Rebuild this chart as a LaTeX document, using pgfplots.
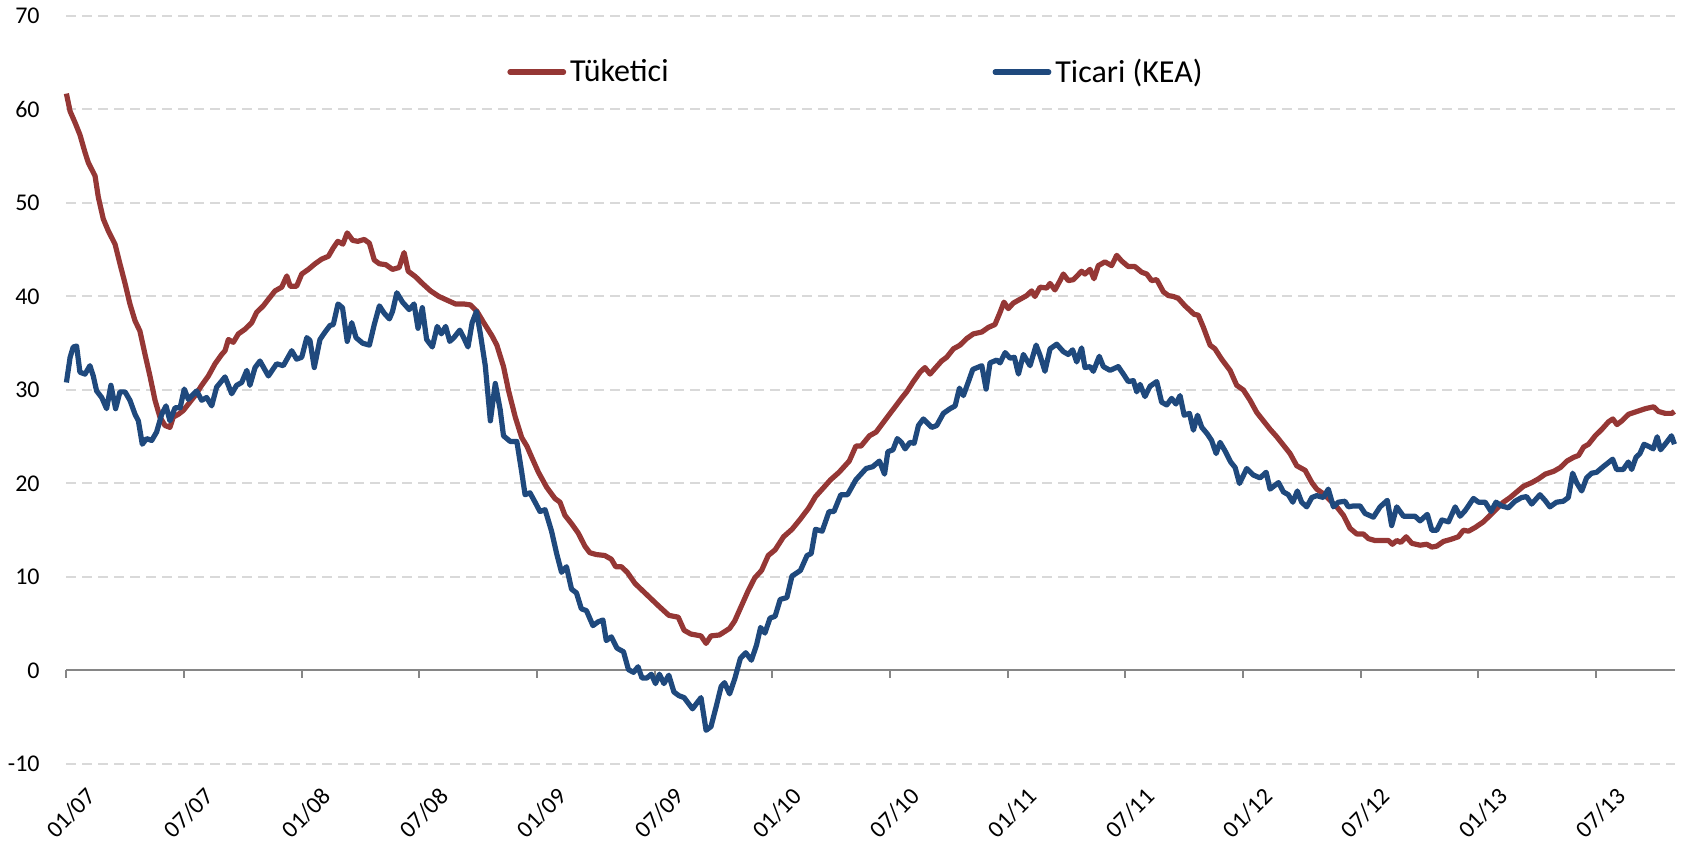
\documentclass[border=0pt]{standalone}
\usepackage{fontspec}
\setmainfont{Carlito}
\usepackage{pgfplots}
\pgfplotsset{compat=1.18}
\definecolor{tred}{HTML}{953735}
\definecolor{tblue}{HTML}{1F497D}
\definecolor{gridc}{HTML}{D9D9D9}
\definecolor{axc}{HTML}{868686}

\pgfplotstableread{
m v
0.0 61.7
0.19 59.8
0.44 58.6
0.69 57.3
0.95 55.4
1.12 54.3
1.46 52.9
1.63 50.6
1.88 48.3
2.14 47.0
2.48 45.6
2.73 43.5
2.99 41.4
3.24 39.2
3.5 37.4
3.75 36.3
4.01 33.8
4.26 31.5
4.52 28.9
4.77 27.1
5.03 26.2
5.28 26.0
5.45 27.1
5.71 27.4
5.96 27.8
6.22 28.5
6.56 29.4
6.9 30.5
7.24 31.5
7.58 32.8
7.92 33.8
8.09 34.2
8.26 35.4
8.51 35.1
8.77 36.0
9.11 36.5
9.45 37.2
9.7 38.3
10.04 39.0
10.3 39.7
10.64 40.6
10.98 41.0
11.24 42.2
11.41 41.1
11.74 41.1
12.0 42.4
12.34 42.9
12.68 43.5
13.02 44.0
13.36 44.3
13.61 45.2
13.84 45.9
14.1 45.6
14.32 46.8
14.6 46.0
14.86 45.9
15.19 46.1
15.45 45.7
15.7 43.9
15.96 43.5
16.29 43.4
16.63 42.9
16.97 43.1
17.22 44.7
17.43 42.7
17.81 42.1
18.15 41.4
18.57 40.6
19.0 40.0
19.42 39.6
19.84 39.2
20.26 39.2
20.6 39.1
20.94 38.4
21.28 37.2
21.7 35.8
21.95 34.8
22.29 32.5
22.55 29.9
22.89 27.1
23.22 24.9
23.48 24.0
23.73 22.8
24.07 21.2
24.49 19.6
24.91 18.4
25.17 18.0
25.42 16.6
25.76 15.7
26.1 14.7
26.44 13.3
26.69 12.6
27.02 12.4
27.45 12.3
27.79 11.9
28.01 11.1
28.3 11.1
28.6 10.5
29.0 9.3
29.6 8.1
30.2 6.9
30.72 5.9
31.2 5.7
31.5 4.3
31.84 3.9
32.36 3.7
32.62 2.9
32.87 3.7
33.3 3.8
33.82 4.5
34.08 5.3
34.42 6.9
34.76 8.5
35.1 9.9
35.45 10.7
35.79 12.3
36.14 12.9
36.57 14.3
37.0 15.1
37.43 16.2
37.86 17.4
38.2 18.6
38.63 19.6
38.97 20.4
39.4 21.2
39.92 22.4
40.26 24.0
40.52 24.0
40.95 25.1
41.29 25.5
41.72 26.7
42.15 27.9
42.58 29.1
42.85 29.8
43.19 30.9
43.53 31.9
43.78 32.4
44.04 31.7
44.29 32.3
44.63 33.1
44.89 33.5
45.23 34.4
45.57 34.8
45.91 35.5
46.25 36.0
46.68 36.2
47.02 36.7
47.35 37.0
47.61 38.3
47.81 39.4
48.03 38.7
48.29 39.3
48.63 39.7
48.97 40.1
49.22 40.6
49.39 40.0
49.65 41.0
49.99 40.9
50.16 41.4
50.41 40.7
50.67 41.7
50.84 42.4
51.09 41.7
51.35 41.8
51.77 42.7
51.94 42.4
52.2 42.9
52.4 41.9
52.62 43.3
52.96 43.7
53.3 43.3
53.56 44.4
53.81 43.8
54.15 43.2
54.49 43.2
54.83 42.6
55.09 42.4
55.34 41.7
55.6 41.8
55.94 40.5
56.19 40.1
56.45 40.0
56.7 39.8
57.04 39.0
57.3 38.5
57.5 38.1
57.72 38.0
57.98 36.7
58.32 34.8
58.57 34.4
58.91 33.3
59.34 32.1
59.68 30.5
60.02 30.0
60.36 28.9
60.7 27.6
61.04 26.7
61.38 25.8
61.72 25.0
62.06 24.1
62.4 23.2
62.74 21.9
63.17 21.4
63.51 20.1
63.76 19.4
64.1 18.9
64.44 18.2
64.78 17.5
65.12 16.6
65.46 15.2
65.8 14.6
66.14 14.6
66.4 14.1
66.73 13.9
67.16 13.9
67.42 13.9
67.62 13.5
67.84 13.9
68.05 13.7
68.32 14.3
68.61 13.6
69.03 13.4
69.37 13.5
69.63 13.2
69.88 13.3
70.22 13.8
70.56 14.0
70.98 14.3
71.24 15.0
71.5 14.9
71.84 15.3
72.26 15.9
72.6 16.6
72.94 17.3
73.28 18.0
73.62 18.5
73.96 19.1
74.3 19.7
74.73 20.1
75.07 20.5
75.41 21.0
75.84 21.3
76.18 21.7
76.52 22.4
76.86 22.8
77.11 23.0
77.37 23.9
77.62 24.2
77.96 25.1
78.3 25.8
78.64 26.6
78.86 26.9
79.07 26.3
79.32 26.7
79.66 27.4
80.09 27.7
80.51 28.0
80.94 28.2
81.19 27.7
81.53 27.5
81.87 27.5
82.0 27.7
}\tuketici

\pgfplotstableread{
m v
0.0 30.8
0.19 33.5
0.35 34.6
0.52 34.7
0.69 31.9
0.95 31.7
1.2 32.6
1.37 31.5
1.54 29.9
1.8 29.2
2.05 28.0
2.27 30.5
2.51 28.0
2.73 29.8
2.99 29.8
3.24 28.9
3.5 27.4
3.67 26.7
3.87 24.2
4.09 24.8
4.35 24.6
4.6 25.5
4.86 27.4
5.08 28.3
5.28 26.7
5.54 28.1
5.8 28.1
6.01 30.1
6.22 29.0
6.64 29.9
6.9 28.9
7.15 29.2
7.41 28.3
7.66 30.3
8.09 31.4
8.43 29.6
8.68 30.5
8.94 30.8
9.2 32.1
9.36 30.5
9.62 32.4
9.87 33.1
10.3 31.5
10.72 32.8
11.06 32.6
11.49 34.2
11.74 33.3
12.0 33.5
12.26 35.6
12.42 35.3
12.64 32.4
12.93 35.4
13.19 36.2
13.44 36.9
13.61 37.0
13.85 39.2
14.08 38.8
14.32 35.2
14.55 37.2
14.77 35.6
15.11 35.0
15.45 34.8
15.7 37.0
15.96 39.0
16.21 38.2
16.47 37.6
16.63 38.4
16.85 40.4
17.14 39.4
17.48 38.6
17.73 39.2
17.93 36.6
18.15 38.8
18.37 35.4
18.66 34.6
18.91 36.8
19.12 36.0
19.34 36.8
19.55 35.2
19.76 35.6
20.06 36.4
20.26 35.6
20.48 34.6
20.69 37.2
20.91 38.4
21.11 36.0
21.36 32.6
21.62 26.7
21.87 30.7
22.12 27.9
22.29 25.1
22.63 24.5
22.97 24.5
23.22 21.2
23.39 18.8
23.64 19.0
23.9 18.0
24.15 17.0
24.41 17.2
24.74 14.9
25.0 12.5
25.25 10.5
25.5 11.1
25.76 8.7
26.01 8.3
26.26 6.6
26.52 6.4
26.85 4.8
27.11 5.2
27.36 5.4
27.53 3.2
27.79 3.6
28.07 2.4
28.41 2.0
28.66 0.1
28.92 -0.2
29.15 0.4
29.35 -0.8
29.6 -0.8
29.83 -0.4
30.04 -1.4
30.24 -0.4
30.47 -1.4
30.72 -0.5
30.98 -2.3
31.24 -2.7
31.5 -2.9
31.93 -4.1
32.36 -2.9
32.62 -6.4
32.87 -6.0
33.13 -3.9
33.39 -1.7
33.56 -1.3
33.82 -2.5
34.08 -0.9
34.37 1.3
34.64 1.9
34.93 1.1
35.19 2.7
35.4 4.6
35.62 4.0
35.88 5.6
36.14 5.8
36.4 7.6
36.74 7.8
37.0 10.1
37.43 10.7
37.77 12.3
37.98 12.5
38.2 15.1
38.54 14.9
38.89 17.0
39.14 17.0
39.49 18.8
39.83 18.8
40.26 20.4
40.78 21.6
41.12 21.8
41.46 22.4
41.72 21.0
41.89 23.4
42.15 23.6
42.37 24.8
42.58 24.4
42.77 23.7
43.02 24.4
43.23 24.3
43.45 26.2
43.7 26.9
44.13 26.0
44.38 26.2
44.72 27.5
45.06 28.0
45.32 28.3
45.54 30.2
45.74 29.4
46.0 30.9
46.22 32.2
46.68 32.6
46.9 30.1
47.1 32.9
47.44 33.2
47.61 32.9
47.87 34.0
48.12 33.4
48.34 33.5
48.55 31.7
48.8 33.8
49.14 32.6
49.45 34.8
49.65 33.7
49.9 32.0
50.16 34.4
50.5 34.9
50.84 34.1
51.09 33.8
51.31 34.3
51.52 33.0
51.77 34.5
51.94 32.4
52.2 32.5
52.37 32.0
52.67 33.6
52.88 32.5
53.22 32.1
53.64 32.5
53.9 31.7
54.15 30.9
54.41 31.0
54.58 29.8
54.75 30.6
55.0 29.3
55.26 30.4
55.6 30.9
55.85 28.7
56.11 28.4
56.36 29.1
56.58 28.5
56.79 29.4
57.0 27.3
57.27 27.5
57.47 25.7
57.68 27.3
57.9 26.0
58.18 25.3
58.4 24.6
58.63 23.2
58.83 24.4
59.08 23.5
59.37 22.3
59.6 21.7
59.82 20.0
60.19 21.6
60.53 20.9
60.87 20.6
61.18 21.2
61.38 19.4
61.81 20.1
62.06 19.1
62.31 18.8
62.54 18.0
62.77 19.2
62.99 18.0
63.25 17.5
63.51 18.5
63.76 18.7
64.1 18.5
64.35 19.4
64.61 17.5
64.86 18.0
65.2 18.1
65.37 17.5
65.63 17.6
65.97 17.6
66.22 16.8
66.65 16.4
66.99 17.5
67.36 18.2
67.58 15.5
67.84 17.5
68.18 16.5
68.43 16.5
68.77 16.5
69.03 16.0
69.4 16.7
69.63 15.0
69.88 15.0
70.14 16.1
70.48 15.9
70.82 17.5
71.07 16.5
71.33 17.1
71.75 18.4
72.01 18.0
72.35 18.0
72.65 17.0
72.9 18.0
73.19 17.6
73.53 17.4
73.87 18.1
74.21 18.5
74.46 18.6
74.72 17.8
75.14 18.8
75.4 18.2
75.65 17.5
75.99 18.0
76.33 18.1
76.59 18.5
76.81 21.1
77.01 20.1
77.27 19.2
77.52 20.6
77.78 21.1
78.03 21.2
78.37 21.8
78.85 22.6
79.05 21.5
79.39 21.5
79.65 22.3
79.82 21.5
80.04 22.8
80.24 23.2
80.45 24.2
80.75 23.9
80.92 23.7
81.12 25.0
81.29 23.6
81.6 24.4
81.85 25.1
82.0 24.2
}\ticari

\begin{document}
\begin{tikzpicture}
\begin{axis}[name=ax, scale only axis, width=804.3pt, height=374pt,
  xmin=0, xmax=82.03, ymin=-10, ymax=70,
  axis line style={draw=none},
  major tick length=0pt,
  xtick={0,6,...,78},
  xticklabels={01/07,07/07,01/08,07/08,01/09,07/09,01/10,07/10,01/11,07/11,01/12,07/12,01/13,07/13},
  ytick={-10,0,...,70},
  ymajorgrids,
  grid style={gridc, line width=1pt, dash pattern=on 5pt off 3pt},
  tick label style={font=\fontsize{12}{14}\selectfont, text=black},
  /pgf/number format/assume math mode=true,
  yticklabel style={anchor=east, inner sep=0pt, xshift=-13.2pt},
  xticklabel style={rotate=45, anchor=east, inner sep=0pt, xshift=-1pt, yshift=-19pt},
  legend columns=2,
  legend style={draw=none, fill=none, at={(0.2739,0.925)}, anchor=west,
    font=\fontsize{16}{19}\selectfont, inner sep=0pt,
    /tikz/every even column/.append style={column sep=160pt}},
  legend image code/.code={\draw[#1, line cap=round] (0pt,0pt) -- (26.8pt,0pt);},
  clip=false,
]
\draw[axc, line width=1pt] (axis cs:0,0) -- (axis cs:82.03,0);
\pgfplotsinvokeforeach{0,6,...,78}{\draw[axc, line width=1pt] (axis cs:#1,0) -- ([yshift=-4pt]axis cs:#1,0);}
\addplot[tred, line width=2.6pt, line join=round] table[x=m, y=v] {\tuketici};
\addlegendentry{Tüketici}
\addplot[tblue, line width=2.6pt, line join=round] table[x=m, y=v] {\ticari};
\addlegendentry{Ticari (KEA)}
\end{axis}
\pgfresetboundingbox
\path ([shift={(-33.2pt,-42.5pt)}]ax.south west) rectangle ([shift={(812.8pt,382pt)}]ax.south west);
\end{tikzpicture}
\end{document}
